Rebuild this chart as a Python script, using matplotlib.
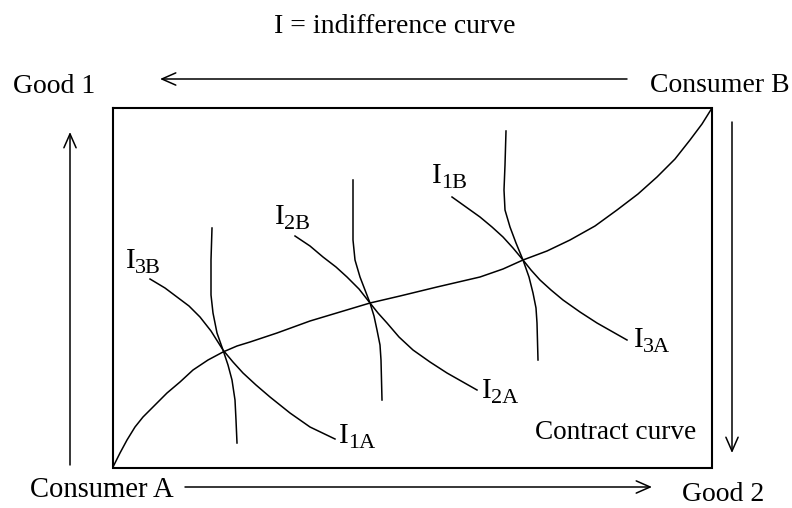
import matplotlib.pyplot as plt
from matplotlib.patches import FancyArrowPatch

plt.rcParams['font.family'] = ['Liberation Serif', 'DejaVu Serif']

# everything in picture pixels (x right, y down)
box_x = [113, 712, 712, 113, 113]
box_y = [108, 108, 468, 468, 108]

# contract curve, from consumer A's corner to consumer B's corner
contract_x = [113, 120, 127, 135, 143, 155, 167, 180, 193, 208, 223, 237, 250,
              277, 310, 340, 370, 400, 437, 480, 503, 523, 547, 570, 595,
              617, 638, 657, 675, 690, 702, 712]
contract_y = [467, 453, 440, 427, 417, 405, 393, 382, 370, 360, 352, 346, 342,
              333, 321, 312, 303, 296, 287, 277, 269, 260, 251, 240, 226,
              210, 194, 177, 159, 140, 124, 108]

# indifference curves of B (falling ones)
ib3_x = [150, 165, 177, 189, 200, 211, 223, 233, 243, 256, 270, 290, 310, 335]
ib3_y = [279, 288, 297, 306, 317, 331, 350, 362, 373, 385, 397, 413, 427, 439]
ib2_x = [295, 310, 323, 336, 347, 359, 370, 378, 387, 399, 413, 430, 447, 477]
ib2_y = [236, 246, 257, 267, 277, 289, 303, 313, 323, 337, 350, 362, 373, 390]
ib1_x = [452, 466, 480, 492, 503, 513, 523, 531, 540, 551, 563, 580, 597, 627]
ib1_y = [197, 207, 217, 227, 237, 248, 260, 270, 280, 290, 300, 312, 323, 340]

# indifference curves of A (near vertical)
ia1_x = [212, 211, 211, 211, 213, 217, 223, 228, 232, 235, 236, 237]
ia1_y = [228, 260, 280, 295, 313, 333, 350, 365, 380, 400, 420, 443]
ia2_x = [353, 353, 353, 355, 360, 365, 370, 374, 377, 380, 381, 382]
ia2_y = [180, 215, 240, 260, 277, 290, 303, 316, 330, 345, 360, 400]
ia3_x = [506, 505, 504, 505, 510, 516, 523, 529, 533, 536, 537, 538]
ia3_y = [131, 165, 190, 210, 227, 243, 260, 277, 293, 308, 323, 360]

curve_main = ['I', 'I', 'I', 'I', 'I', 'I']
curve_subs = ['3B', '2B', '1B', '1A', '2A', '3A']
label_x = [126, 275, 432, 339, 482, 634]
label_y = [268, 224, 183, 443, 398, 347]

fig = plt.figure(figsize=(7.92, 5.08), dpi=100)
ax = fig.add_axes([0, 0, 1, 1])
ax.set_xlim(0, 792)
ax.set_ylim(508, 0)
ax.axis('off')

ax.plot(box_x, box_y, color='black', lw=1.5, solid_joinstyle='miter')
ax.plot(contract_x, contract_y, color='black', lw=1.1)
for xs, ys in [(ib3_x, ib3_y), (ib2_x, ib2_y), (ib1_x, ib1_y),
               (ia1_x, ia1_y), (ia2_x, ia2_y), (ia3_x, ia3_y)]:
    ax.plot(xs, ys, color='black', lw=1.1)

# "I" with a larger-than-mathtext subscript
for m, s, lx, ly in zip(curve_main, curve_subs, label_x, label_y):
    ax.text(lx, ly, m, fontsize=21, ha='left', va='baseline')
    ax.text(lx + 9, ly + 5, s, fontsize=16, ha='left', va='baseline')

ax.text(535, 439, 'Contract curve', fontsize=19.6, ha='left', va='baseline')
ax.text(395, 33, 'I = indifference curve', fontsize=20, ha='center', va='baseline')
ax.text(13, 93, 'Good 1', fontsize=20, ha='left', va='baseline')
ax.text(650, 92, 'Consumer B', fontsize=20, ha='left', va='baseline')
ax.text(30, 497, 'Consumer A', fontsize=20.6, ha='left', va='baseline')
ax.text(682, 501, 'Good 2', fontsize=20, ha='left', va='baseline')

# direction arrows
arrows = [((627, 79), (160, 79)), ((185, 487), (652, 487)),
          ((70, 465), (70, 132)), ((732, 122), (732, 453))]
for start, end in arrows:
    ax.add_patch(FancyArrowPatch(start, end, arrowstyle='->,head_length=0.5,head_width=0.22',
                                 mutation_scale=20, color='black', lw=1.1,
                                 shrinkA=0, shrinkB=0))

fig.savefig('out.png', dpi=100, facecolor='white')
